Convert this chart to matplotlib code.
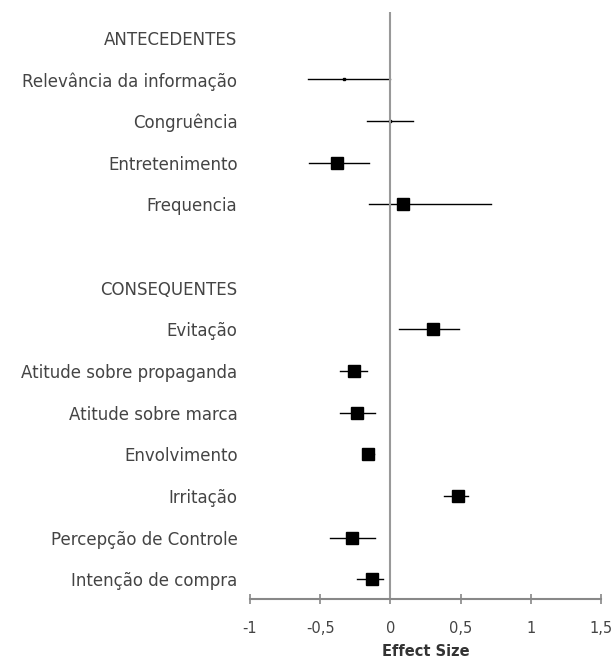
import numpy as np
import matplotlib.pyplot as plt

labels = ["ANTECEDENTES", "Relevância da informação", "Congruência", "Entretenimento",
          "Frequencia", "", "CONSEQUENTES", "Evitação", "Atitude sobre propaganda",
          "Atitude sobre marca", "Envolvimento", "Irritação", "Percepção de Controle",
          "Intenção de compra"]

# effect sizes and confidence limits (None = header / blank row)
effect = [None, -0.33, 0.00, -0.38, 0.09, None, None, 0.30, -0.26, -0.24, -0.16, 0.48, -0.27, -0.13]
lower = [None, -0.59, -0.17, -0.58, -0.15, None, None, 0.06, -0.36, -0.36, -0.19, 0.38, -0.43, -0.24]
upper = [None, 0.00, 0.16, -0.15, 0.72, None, None, 0.49, -0.17, -0.11, -0.12, 0.55, -0.11, -0.05]
weight = [0, 2, 2, 9, 8.5, 0, 0, 8.5, 8, 8, 8, 8.5, 8.5, 8.5]

fig = plt.figure(figsize=(6.16, 6.62), dpi=100)
ax = fig.add_axes([250 / 616, 63 / 662, 351 / 616, 587 / 662])

rows = np.arange(len(labels))
for i in rows:
    if effect[i] is None:
        continue
    ax.plot([lower[i], upper[i]], [i, i], color="black", lw=1)
    ax.plot(effect[i], i, marker="s", color="black", ms=weight[i], ls="none")

ax.axvline(0, color="#999999", lw=1.5)
ax.set_xlim(-1, 1.5)
ax.set_ylim(13.47, -0.62)

ax.set_yticks(rows)
ax.set_yticklabels(labels, fontsize=12, color="#444444")
ax.tick_params(axis="y", length=0, pad=9)

ax.set_xticks([-1, -0.5, 0, 0.5, 1, 1.5])
ax.set_xticklabels(["-1", "-0,5", "0", "0,5", "1", "1,5"], fontsize=10.5, color="#444444")
ax.tick_params(axis="x", direction="inout", length=7, color="#888888", width=1.2, pad=12)
ax.set_xlabel("Effect Size", fontsize=10.5, fontweight="bold", color="#333333", labelpad=6)

for s in ["top", "right", "left"]:
    ax.spines[s].set_visible(False)
ax.spines["bottom"].set_color("#888888")
ax.spines["bottom"].set_linewidth(1.5)

fig.savefig("out.png", dpi=100)
